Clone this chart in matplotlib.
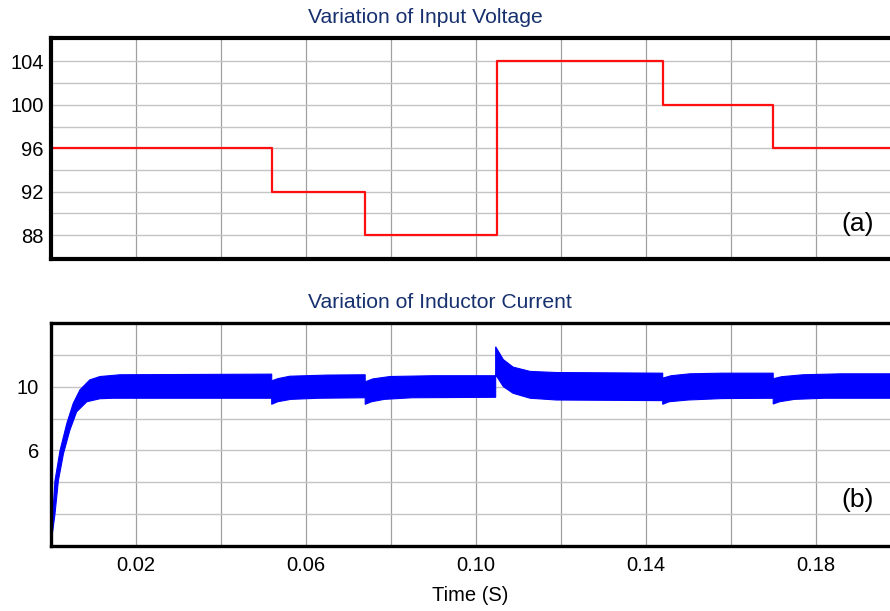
import numpy as np
import matplotlib.pyplot as plt

plt.rcParams['font.family'] = ['Liberation Sans', 'DejaVu Sans']

# input voltage steps (time in s, volts)
volt_t = [0.0, 0.052, 0.074, 0.105, 0.144, 0.170, 0.200]
volt_v = [96, 92, 88, 104, 100, 96, 96]

# inductor current ripple band, read as upper / lower envelopes
cur_up_t = [0.0, 0.0001, 0.0005, 0.001, 0.0022, 0.0038, 0.0053, 0.0069, 0.0092,
            0.0116, 0.0163, 0.052, 0.052, 0.0535, 0.0563, 0.065, 0.074, 0.074,
            0.0758, 0.0798, 0.09, 0.1047, 0.1047, 0.1065, 0.1088, 0.1128, 0.119,
            0.144, 0.144, 0.1460, 0.1504, 0.158, 0.170, 0.170, 0.1720, 0.177,
            0.186, 0.200]
cur_up_v = [0.0, 1.4, 2.0, 4.1, 6.0, 7.7, 8.95, 9.8, 10.42,
            10.63, 10.74, 10.78, 10.36, 10.5, 10.65, 10.72, 10.74, 10.3,
            10.48, 10.63, 10.68, 10.68, 12.49, 11.69, 11.22, 10.95, 10.88,
            10.84, 10.53, 10.68, 10.8, 10.84, 10.84, 10.49, 10.62, 10.74,
            10.8, 10.8]
cur_lo_t = [0.0, 0.001, 0.0018, 0.003, 0.0045, 0.0061, 0.0085, 0.0116, 0.0147,
            0.052, 0.052, 0.0534, 0.0565, 0.063, 0.074, 0.074, 0.0755, 0.0785,
            0.085, 0.1047, 0.1047, 0.1065, 0.1088, 0.1128, 0.119, 0.144, 0.144,
            0.1455, 0.150, 0.158, 0.170, 0.170, 0.1715, 0.175, 0.182, 0.200]
cur_lo_v = [0.0, 2.0, 4.1, 5.8, 7.26, 8.42, 9.05, 9.24, 9.27,
            9.27, 8.89, 9.05, 9.2, 9.27, 9.3, 8.89, 9.05, 9.2,
            9.3, 9.33, 10.74, 10.0, 9.58, 9.27, 9.16, 9.12, 8.89,
            9.05, 9.16, 9.25, 9.27, 8.91, 9.05, 9.2, 9.27, 9.27]

x_ticks = [0.00, 0.02, 0.04, 0.06, 0.08, 0.10, 0.12, 0.14, 0.16, 0.18, 0.20]
x_labels = ['', '0.02', '', '0.06', '', '0.10', '', '0.14', '', '0.18', '']
v_ticks = [88, 90, 92, 94, 96, 98, 100, 102, 104]
v_labels = ['88', '', '92', '', '96', '', '100', '', '104']
i_ticks = [2, 4, 6, 8, 10, 12]
i_labels = ['', '', '6', '', '10', '']

W, H = 890, 611
fig = plt.figure(figsize=(W / 100, H / 100), dpi=100)

def px_axes(left, top, right, bottom):
    return fig.add_axes([left / W, 1 - bottom / H, (right - left) / W, (bottom - top) / H])

def px_text(x, y, s, **kw):
    return fig.text(x / W, 1 - y / H, s, **kw)

ax1 = px_axes(50.7, 37.5, 900.7, 259)
ax2 = px_axes(50.7, 322.7, 900.7, 546.3)

for ax, lw in ((ax1, 3.0), (ax2, 2.4)):
    ax.set_xlim(0, 0.2)
    ax.set_xticks(x_ticks)
    for s in ax.spines.values():
        s.set_linewidth(lw)
        s.set_color('black')
    ax.grid(True, axis='x', color='#a0a0a0', linewidth=0.9)
    ax.grid(True, axis='y', color='#c4c4c4', linewidth=1.0)
    ax.set_axisbelow(True)

# (a) input voltage
ax1.step(volt_t, volt_v, where='post', color='#ff1010', linewidth=1.6)
ax1.set_ylim(85.8, 106.2)
ax1.set_yticks(v_ticks)
ax1.set_yticklabels(v_labels)
ax1.set_xticklabels([])
ax1.tick_params(length=0, labelsize=14.5, pad=5)

# (b) inductor current
ax2.fill(np.r_[cur_up_t, cur_lo_t[::-1]], np.r_[cur_up_v, cur_lo_v[::-1]],
         color='#0000ff', linewidth=0.8)
ax2.set_ylim(0, 14)
ax2.set_yticks(i_ticks)
ax2.set_yticklabels(i_labels)
ax2.set_xticklabels(x_labels)
ax2.tick_params(axis='y', length=0, labelsize=14.5, pad=8.5)
ax2.tick_params(axis='x', length=0, labelsize=14.5, pad=7)

px_text(308, 23, 'Variation of Input Voltage', color='#17306e',
        fontsize=15.2, ha='left', va='baseline')
px_text(308, 308, 'Variation of Inductor Current', color='#17306e',
        fontsize=15.2, ha='left', va='baseline')
px_text(470, 601, 'Time (S)', fontsize=14.5, ha='center', va='baseline')
px_text(858, 224, '(a)', fontsize=19, ha='center', va='center')
px_text(858, 500, '(b)', fontsize=19, ha='center', va='center')

fig.savefig('out.png', dpi=100)
